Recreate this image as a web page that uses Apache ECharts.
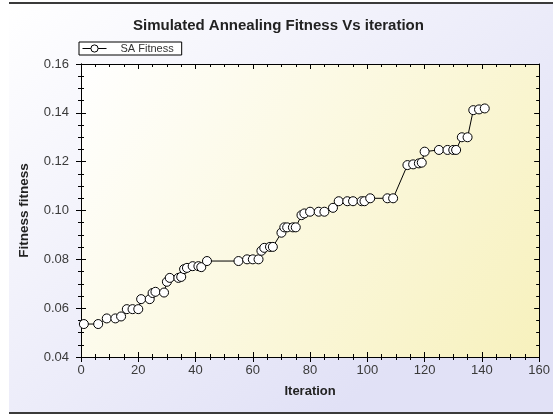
<!DOCTYPE html>
<html>
<head>
<meta charset="utf-8">
<script src="https://cdn.jsdelivr.net/npm/echarts@6/dist/echarts.min.js"></script>
<style>
    html, body {margin: 0; padding: 0; background: #ffffff;}
    #sa-chart {
        position: absolute;
        left: 9px;
        top: 2px;
        width: 544px;
        height: 408px;
        border-top: 2px solid #3a3a3a;
        border-bottom: 2px solid #3a3a3a;
    }
</style>
</head>
<body>
<div id="sa-chart"></div>
<script>
// iteration / fitness
var iterations = [1, 6, 9, 12, 14, 16, 18, 20, 21, 24, 25, 26, 29, 30, 31, 34, 35, 36, 37, 39,
    41, 42, 44, 55, 58, 60, 62, 63, 64, 66, 67, 70, 71, 72, 74, 75, 77, 78, 80, 83,
    85, 88, 90, 93, 95, 98, 99, 101, 107, 109, 114, 116, 118, 119, 120, 125, 128, 130, 131, 133,
    135, 137, 139, 141];
var fitness = [0.0535, 0.0535, 0.0558, 0.0558, 0.0566, 0.0596, 0.0596, 0.0596, 0.0637, 0.0637,
    0.0662, 0.0667, 0.0664, 0.0708, 0.0724, 0.0724, 0.0728, 0.0760, 0.0765, 0.0772,
    0.0772, 0.0768, 0.0793, 0.0793, 0.0800, 0.0800, 0.0800, 0.0835, 0.0847, 0.0851,
    0.0851, 0.0909, 0.0931, 0.0931, 0.0931, 0.0931, 0.0981, 0.0988, 0.0995, 0.0995,
    0.0995, 0.1011, 0.1038, 0.1038, 0.1038, 0.1038, 0.1038, 0.1050, 0.1050, 0.1050,
    0.1186, 0.1189, 0.1193, 0.1196, 0.1241, 0.1248, 0.1248, 0.1248, 0.1248, 0.1300,
    0.1300, 0.1411, 0.1414, 0.1418];
var xTicks = [0, 160, 20];
var yTicks = [0.04, 0.16, 0.02];

var font = 'Liberation Sans, Arial, sans-serif';

function tickAxis(dim, position, inside, withLabel) {
    var ax = {
        type: 'value',
        position: position,
        min: dim === 'x' ? xTicks[0] : yTicks[0],
        max: dim === 'x' ? xTicks[1] : yTicks[1],
        interval: dim === 'x' ? xTicks[2] : yTicks[2],
        axisLine: {show: true, onZero: false, lineStyle: {color: '#000', width: 1}},
        axisTick: {show: true, inside: inside, length: 5, lineStyle: {color: '#000'}},
        minorTick: {show: true, splitNumber: 4, length: 3, lineStyle: {color: '#000'}},
        splitLine: {show: false},
        axisLabel: {show: false}
    };
    if (withLabel) {
        ax.axisLabel = {
            show: true,
            color: '#3a3a3a',
            fontFamily: font,
            fontSize: 13,
            margin: dim === 'x' ? 7 : 12,
            formatter: dim === 'x' ? '{value}' : function (v) {
                return v.toFixed(2);
            }
        };
    }
    return ax;
}

var xMain = tickAxis('x', 'bottom', false, true);
xMain.name = 'Iteration';
xMain.nameLocation = 'middle';
xMain.nameGap = 28;
xMain.nameTextStyle = {color: '#222', fontWeight: 'bold', fontSize: 13, fontFamily: font};

var yMain = tickAxis('y', 'left', false, true);
yMain.name = 'Fitness fitness';
yMain.nameLocation = 'middle';
yMain.nameGap = 50;
yMain.nameTextStyle = {color: '#222', fontWeight: 'bold', fontSize: 13.5, fontFamily: font};

var option = {
    animation: false,
    backgroundColor: {
        type: 'linear', x: 0, y: 0, x2: 0.6, y2: 1,
        colorStops: [{offset: 0, color: '#ffffff'}, {offset: 1, color: '#e1e1f6'}]
    },
    title: {
        text: 'Simulated Annealing Fitness Vs iteration',
        left: 119,
        top: 9,
        textStyle: {color: '#222', fontSize: 15, fontWeight: 'bold', fontFamily: font}
    },
    legend: {
        data: ['SA Fitness'],
        left: 70,
        top: 38,
        itemWidth: 24,
        itemHeight: 9,
        itemGap: 0,
        padding: [1, 8, 1, 3],
        borderColor: '#000',
        borderWidth: 1,
        backgroundColor: '#ffffff',
        lineStyle: {width: 1},
        itemStyle: {borderWidth: 1},
        textStyle: {color: '#333', fontSize: 11, fontFamily: font, padding: [0, 0, 0, 9]}
    },
    grid: {
        show: true,
        left: 70,
        right: 12,
        top: 60,
        bottom: 55,
        borderWidth: 0,
        backgroundColor: {
            type: 'linear', x: 0, y: 0, x2: 1, y2: 1,
            colorStops: [{offset: 0, color: '#ffffff'}, {offset: 1, color: '#f7f1bd'}]
        }
    },
    xAxis: [
        xMain,
        tickAxis('x', 'bottom', true, false),
        tickAxis('x', 'top', true, false)
    ],
    yAxis: [
        yMain,
        tickAxis('y', 'left', true, false),
        tickAxis('y', 'right', true, false)
    ],
    series: [
        {
            name: 'SA Fitness',
            type: 'line',
            xAxisIndex: 0,
            yAxisIndex: 0,
            data: iterations.map(function (it, i) {
                return [it, fitness[i]];
            }),
            symbol: 'circle',
            symbolSize: 9,
            showAllSymbol: true,
            lineStyle: {color: '#000', width: 1},
            itemStyle: {color: '#ffffff', borderColor: '#000', borderWidth: 1}
        }
    ]
};

var saChart = echarts.init(document.getElementById('sa-chart'));
saChart.setOption(option);
</script>
</body>
</html>
